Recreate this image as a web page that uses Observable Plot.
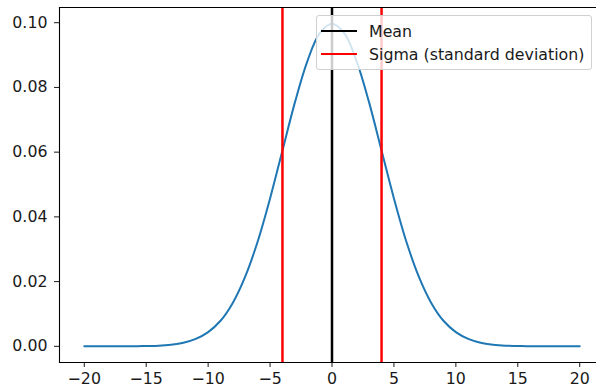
<!DOCTYPE html>
<html>
<head>
<meta charset="utf-8">
<script src="https://cdn.jsdelivr.net/npm/d3@7"></script>
<script src="https://cdn.jsdelivr.net/npm/@observablehq/plot@0.6"></script>
<style>
  html, body { margin: 0; padding: 0; background: #fff; }
  #wrap { position: relative; width: 596px; height: 392px; overflow: hidden; font-family: "DejaVu Sans", sans-serif; }
  #chart { width: 610px; }
  #chart svg { max-width: none !important; }
  #legend { position: absolute; left: 316px; top: 15px; width: 276px; height: 55px; box-sizing: border-box;
    border: 1px solid #d0d0d0; border-radius: 3px; background: rgba(255,255,255,0.8); font-size: 15.8px; color: #1a1a1a; }
  .item { position: absolute; left: 0; height: 20px; display: flex; align-items: center; white-space: nowrap; }
  .swatch { width: 36px; height: 2px; margin-left: 4px; margin-right: 12px; }
</style>
</head>
<body>
<div id="wrap"><div id="chart"></div><div id="legend"></div></div>
<script>
// Values
const xs = [-20,-19,-18,-17,-16,-15,-14,-13,-12,-11,-10,-9,-8,-7,-6,-5,-4,-3,-2,-1,0,
            1,2,3,4,5,6,7,8,9,10,11,12,13,14,15,16,17,18,19,20];
const ys = [0.0000,0.0000,0.0000,0.0000,0.0000,0.0001,0.0002,0.0005,0.0011,0.0023,0.0044,0.0079,0.0135,0.0216,0.0324,0.0457,0.0605,0.0753,0.0880,0.0967,0.0997,
            0.0967,0.0880,0.0753,0.0605,0.0457,0.0324,0.0216,0.0135,0.0079,0.0044,0.0023,0.0011,0.0005,0.0002,0.0001,0.0000,0.0000,0.0000,0.0000,0.0000];
const meanX = [0];
const sigmaX = [-4, 4];
const xTicks = [-20, -15, -10, -5, 0, 5, 10, 15, 20];
const yTicks = [0.00, 0.02, 0.04, 0.06, 0.08, 0.10];
const legendLabels = ["Mean", "Sigma (standard deviation)"];
const legendColors = ["#000000", "#ff0000"];

const curve = xs.map((x, i) => ({x, y: ys[i]}));

const chart = Plot.plot({
  width: 610,
  height: 392,
  marginLeft: 59,
  marginRight: 6,
  marginTop: 7,
  marginBottom: 30,
  style: {fontFamily: "DejaVu Sans, sans-serif", fontSize: "15.8px", color: "#1a1a1a", background: "#fff", maxWidth: "none"},
  x: {domain: [-22, 22], ticks: xTicks, tickSize: 5, tickPadding: 5, label: null, tickFormat: d3.format("d")},
  y: {domain: [-0.005, 0.1047], ticks: yTicks, tickSize: 5, tickPadding: 7, label: null, tickFormat: d3.format(".2f")},
  marks: [
    Plot.line(curve, {x: "x", y: "y", stroke: "#1f77b4", strokeWidth: 2, curve: "catmull-rom"}),
    Plot.ruleX(meanX, {stroke: "#000", strokeWidth: 2.5}),
    Plot.ruleX(sigmaX, {stroke: "#ff0000", strokeWidth: 2.5}),
    Plot.frame({anchor: "left", stroke: "#000", strokeWidth: 1.1}),
    Plot.frame({anchor: "top", stroke: "#000", strokeWidth: 1.1}),
    Plot.frame({anchor: "bottom", stroke: "#000", strokeWidth: 1.1})
  ]
});
document.getElementById("chart").appendChild(chart);

const leg = document.getElementById("legend");
legendLabels.forEach((lab, i) => {
  const it = document.createElement("div");
  it.className = "item";
  it.style.top = (5 + i * 23) + "px";
  const sw = document.createElement("div");
  sw.className = "swatch";
  sw.style.background = legendColors[i];
  sw.style.height = "2.5px";
  const t = document.createElement("span");
  t.textContent = lab;
  it.appendChild(sw); it.appendChild(t);
  leg.appendChild(it);
});
</script>
</body>
</html>
